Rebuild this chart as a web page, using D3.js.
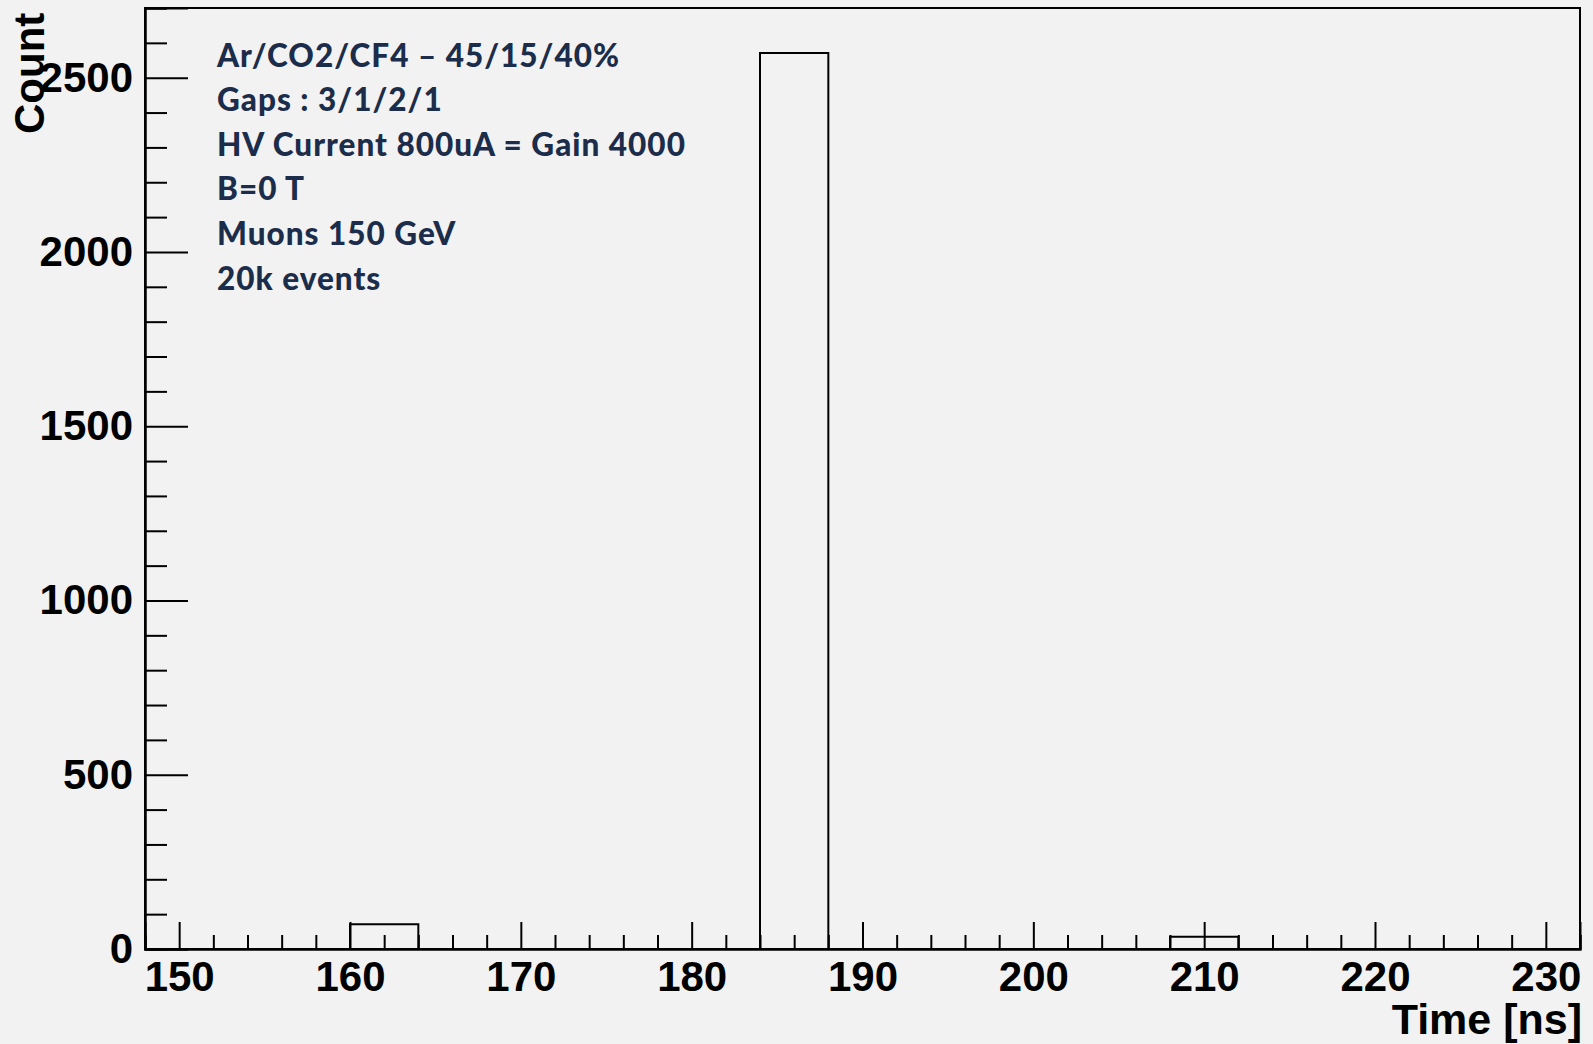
<!DOCTYPE html>
<html>
<head>
<meta charset="utf-8">
<script src="https://cdn.jsdelivr.net/npm/d3@7"></script>
<style>
  html, body { margin: 0; padding: 0; background: #f2f2f2; }
  svg { display: block; }
</style>
</head>
<body>
<svg id="chart" width="1593" height="1044"></svg>
<script>
// Histogram: lower edge of each 4 ns bin, and the entries in it
const binStarts = [148, 152, 156, 160, 164, 168, 172, 176, 180, 184, 188,
                   192, 196, 200, 204, 208, 212, 216, 220, 224, 228];
const counts    = [0, 0, 0, 71, 0, 0, 0, 0, 0, 2571, 0,
                   0, 0, 0, 0, 35, 0, 0, 0, 0, 0];
const binWidth = 4;

const xRange = [148, 232];
const yRange = [0, 2700];
const xMajorTicks = [150, 160, 170, 180, 190, 200, 210, 220, 230];
const yMajorTicks = [0, 500, 1000, 1500, 2000, 2500];

const infoLines = [
  "Ar/CO2/CF4 \u2013 45/15/40%",
  "Gaps : 3/1/2/1",
  "HV Current 800uA = Gain 4000",
  "B=0 T",
  "Muons 150 GeV",
  "20k events"
];

const xTitle = "Time [ns]";
const yTitle = "Count";

// Frame geometry
const frame = { left: 145, right: 1580, top: 8, bottom: 949 };
const axisFont = "'Liberation Sans', Arial, Helvetica, sans-serif";

const svg = d3.select("#chart");

const x = d3.scaleLinear().domain(xRange).range([frame.left, frame.right]);
const y = d3.scaleLinear().domain(yRange).range([frame.bottom, frame.top]);

// minor ticks: every 2 ns on x, every 100 counts on y
const xMinorTicks = d3.range(xRange[0], xRange[1] + 0.001, 2).filter(v => !xMajorTicks.includes(v));
const yMinorTicks = d3.range(0, yRange[1] + 0.001, 100).filter(v => !yMajorTicks.includes(v));

// Frame box
svg.append("rect")
  .attr("x", frame.left).attr("y", frame.top)
  .attr("width", frame.right - frame.left)
  .attr("height", frame.bottom - frame.top)
  .attr("fill", "none").attr("stroke", "#000").attr("stroke-width", 2);

// Histogram outline as a step line across all bins
const stepPoints = [];
binStarts.forEach((b, i) => {
  stepPoints.push([b, counts[i]]);
});
stepPoints.push([binStarts[binStarts.length - 1] + binWidth, counts[counts.length - 1]]);

const step = d3.line()
  .x(d => x(d[0]))
  .y(d => y(d[1]))
  .curve(d3.curveStepAfter);

svg.append("path")
  .datum(stepPoints)
  .attr("d", step)
  .attr("fill", "none")
  .attr("stroke", "#000")
  .attr("stroke-width", 2);

// X axis: minor ticks, then major ticks with labels
const gxMinor = svg.append("g")
  .attr("transform", `translate(0,${frame.bottom})`)
  .call(d3.axisBottom(x).tickValues(xMinorTicks).tickSize(-14).tickFormat(""));
const gx = svg.append("g")
  .attr("transform", `translate(0,${frame.bottom})`)
  .call(d3.axisBottom(x).tickValues(xMajorTicks).tickSize(-27).tickPadding(12).tickFormat(d3.format("d")));

// Y axis
const gyMinor = svg.append("g")
  .attr("transform", `translate(${frame.left},0)`)
  .call(d3.axisLeft(y).tickValues(yMinorTicks).tickSize(-22).tickFormat(""));
const gy = svg.append("g")
  .attr("transform", `translate(${frame.left},0)`)
  .call(d3.axisLeft(y).tickValues(yMajorTicks).tickSize(-43).tickPadding(12).tickFormat(d3.format("d")));

[gxMinor, gx, gyMinor, gy].forEach(g => {
  g.select(".domain").attr("stroke", "#000").attr("stroke-width", 2);
  g.selectAll(".tick line").attr("stroke", "#000").attr("stroke-width", 2);
  g.selectAll(".tick text")
    .attr("fill", "#000")
    .style("font-family", axisFont)
    .style("font-weight", "bold")
    .style("font-size", "42px");
});

// Axis titles
svg.append("text")
  .attr("x", 1582).attr("y", 1034)
  .attr("text-anchor", "end")
  .style("font-family", axisFont).style("font-weight", "bold").style("font-size", "43px")
  .attr("fill", "#000")
  .text(xTitle);

svg.append("text")
  .attr("transform", "translate(44,134) rotate(-90)")
  .attr("text-anchor", "start")
  .style("font-family", axisFont).style("font-weight", "bold").style("font-size", "42px")
  .attr("fill", "#000")
  .text(yTitle);

// Run conditions annotation
svg.append("g")
  .selectAll("text")
  .data(infoLines)
  .join("text")
  .attr("x", 217)
  .attr("y", (d, i) => 66.5 + i * 44.6)
  .style("font-family", "Lato, 'Open Sans', sans-serif")
  .style("font-weight", "900")
  .style("font-size", "31.5px")
  .style("letter-spacing", "1px")
  .attr("fill", "#1b2d4b")
  .text(d => d);
</script>
</body>
</html>
